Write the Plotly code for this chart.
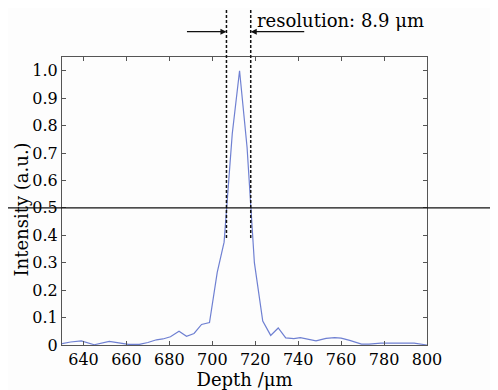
import plotly.graph_objects as go

# Data
depth = [630, 634, 639, 645, 652, 657, 661, 666, 670, 674, 677, 680.5, 684.5, 688,
         691.5, 695, 698.7, 702.3, 705.5, 709.3, 712.7, 716.2, 719.6, 723.5, 727.2,
         730.7, 734.2, 738, 741, 748.3, 753, 757, 760, 764, 769.5, 773, 778.5, 785,
         794, 800]
intensity = [0.005, 0.011, 0.015, 0.001, 0.013, 0.008, 0.002, 0.002, 0.009, 0.019,
             0.022, 0.03, 0.05, 0.032, 0.042, 0.075, 0.082, 0.265, 0.375, 0.77, 1.0,
             0.72, 0.30, 0.087, 0.035, 0.062, 0.026, 0.023, 0.027, 0.015, 0.024,
             0.027, 0.025, 0.017, 0.003, 0.003, 0.007, 0.007, 0.007, 0.0]

x_ticks = [640, 660, 680, 700, 720, 740, 760, 780, 800]
y_ticks = [0, 0.1, 0.2, 0.3, 0.4, 0.5, 0.6, 0.7, 0.8, 0.9, 1.0]
y_tick_labels = ["0", "0.1", "0.2", "0.3", "0.4", "0.5", "0.6", "0.7", "0.8", "0.9", "1.0"]

half_max = 0.5
fwhm_left = 706.6
fwhm_right = 717.9
dash_bottom = 0.39
label_text = "resolution: 8.9 μm"
y_title = "Intensity (a.u.)"
x_title = "Depth /μm"

FONT = "DejaVu Serif"
y_max = 1.05

fig = go.Figure()
fig.add_trace(go.Scatter(x=depth, y=intensity, mode="lines",
                         line=dict(color="#6f80d2", width=1.2), showlegend=False,
                         cliponaxis=True))

axis_common = dict(showline=True, linecolor="#555555", linewidth=1, mirror="allticks",
                   ticks="inside", ticklen=4, tickcolor="#555555", showgrid=False,
                   zeroline=False, automargin=False,
                   tickfont=dict(family=FONT, size=16, color="#000"))

fig.update_xaxes(range=[630, 800], tickvals=x_ticks,
                 title=dict(text=x_title, font=dict(family=FONT, size=18, color="#000"),
                            standoff=0),
                 **axis_common)
fig.update_yaxes(range=[0, y_max], tickvals=y_ticks, ticktext=y_tick_labels, **axis_common)

# y-axis title placed as rotated annotation
fig.add_annotation(x=-0.11, y=0.47, xref="paper", yref="paper", text=y_title,
                   textangle=-90, showarrow=False, xanchor="center", yanchor="middle",
                   font=dict(family=FONT, size=18, color="#000"))

# horizontal half-maximum line across whole figure
fig.add_shape(type="line", xref="paper", yref="y", x0=-0.2, x1=1.2,
              y0=half_max, y1=half_max, line=dict(color="#111", width=1.3), layer="above")

# dashed FWHM lines
for xv in (fwhm_left, fwhm_right):
    fig.add_shape(type="line", xref="x", yref="paper", x0=xv, x1=xv,
                  y0=dash_bottom / y_max, y1=1.2,
                  line=dict(color="#111", width=1.5, dash="3px,2px"), layer="above")

arrow_y = 1.088
fig.add_annotation(x=fwhm_left, y=arrow_y, xref="x", yref="paper", ax=-41, ay=0,
                   showarrow=True, arrowhead=2, arrowsize=1, arrowwidth=1.2,
                   arrowcolor="#111", text="")
fig.add_annotation(x=fwhm_right, y=arrow_y, xref="x", yref="paper", ax=55, ay=0,
                   showarrow=True, arrowhead=2, arrowsize=1, arrowwidth=1.2,
                   arrowcolor="#111", text="")
fig.add_annotation(x=720, y=1.128, xref="x", yref="paper", xanchor="left", yanchor="middle",
                   text=label_text, showarrow=False,
                   font=dict(family=FONT, size=18, color="#000"))

# page body has an 8px default margin, so the figure is shrunk by 8px and margins shifted
fig.update_layout(width=490, height=382, margin=dict(l=54, r=71, t=49, b=45),
                  paper_bgcolor="#fdfdfd", plot_bgcolor="#fdfdfd")

fig.write_html("out.html")
